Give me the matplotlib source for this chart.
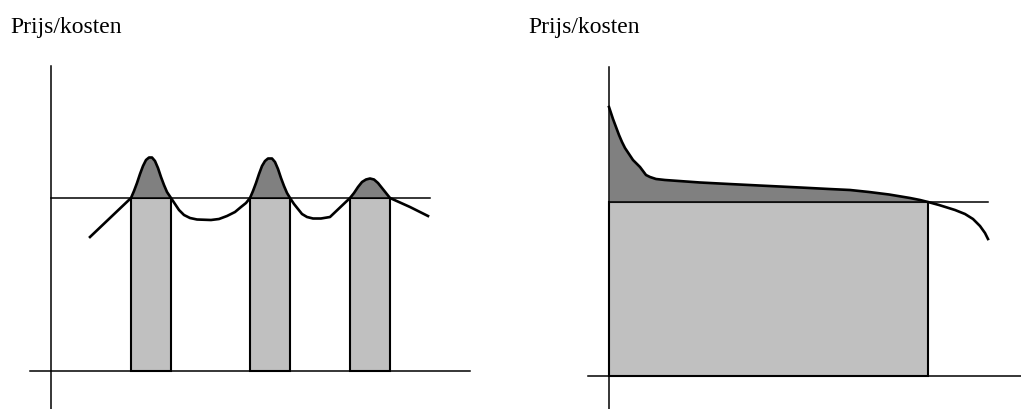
import numpy as np
import matplotlib.pyplot as plt

# left panel: curve with three peaks above the price line
left_x = np.array([39, 80, 83, 86, 89, 92, 95, 98, 101, 104, 107, 110, 113, 116, 120,
                   124, 128, 133, 139, 146, 160, 168, 176, 184, 190, 195,
                   199, 202, 205, 208, 211, 214, 217, 221, 224, 227, 230, 233, 236, 239,
                   243, 247, 251, 256, 262, 270, 279,
                   299, 303, 307, 311, 315, 319, 323, 327, 331, 335, 339, 359, 377])
left_y = np.array([134, 173, 180, 188, 197, 205, 211, 213.5, 213.5, 210, 203, 194, 186, 179, 173,
                   167, 161, 156, 153, 151.5, 151, 152, 155, 159, 164, 168,
                   173, 180, 188, 197, 205, 210, 212.5, 212.5, 209, 202, 193, 185, 178, 173,
                   167, 162, 157, 154, 152.5, 152.5, 154,
                   173, 178, 184, 189, 191.5, 192.5, 191.5, 188, 183, 178, 173, 164, 155])
left_price = 173
left_bars_start = [80, 199, 299]
left_bar_width = 40

# right panel: falling curve, one large block
right_x = np.array([0, 2, 4, 7, 10, 13, 16, 20, 24, 28, 31, 34, 37, 41, 47, 56, 70, 91,
                    120, 150, 191, 220, 241, 260, 280, 301, 311, 319,
                    330, 346, 356, 364, 371, 376, 379])
right_y = np.array([269, 263, 257, 249, 241, 234, 228, 222, 216, 212, 209, 205, 201, 199,
                    197, 196, 195, 193.5, 192, 190.5, 188.5, 187, 186, 184, 181.5, 178,
                    176, 174, 171, 166, 162, 157, 150, 143, 137])
right_price = 174
right_block_end = 319

label = "Prijs/kosten"
dark = "#808080"
light = "#c0c0c0"

fig = plt.figure(figsize=(10.21, 4.10), dpi=100)
ax1 = fig.add_axes([0, 0, 510 / 1021, 1])
ax2 = fig.add_axes([510 / 1021, 0, 511 / 1021, 1])
ax1.set_xlim(-51, 459)
ax1.set_ylim(-38, 372)
ax2.set_xlim(-99, 412)
ax2.set_ylim(-33, 377)

# left
for x0 in left_bars_start:
    ax1.bar(x0, left_price, width=left_bar_width, align='edge', color=light,
            edgecolor='black', linewidth=1.5, zorder=1)
ax1.fill_between(left_x, left_y, left_price, where=left_y >= left_price,
                 interpolate=True, color=dark, linewidth=0, zorder=2)
ax1.plot([0, 379], [left_price, left_price], color='black', lw=1.1, zorder=3)
ax1.plot([0, 0], [-38, 305], color='black', lw=1.1, zorder=3)
ax1.plot([-21, 419], [0, 0], color='black', lw=1.1, zorder=3)
ax1.plot(left_x, left_y, color='black', lw=1.9, zorder=4, solid_joinstyle='round')

# right
ax2.bar(0, right_price, width=right_block_end, align='edge', color=light,
        edgecolor='black', linewidth=1.5, zorder=1)
ax2.fill_between(right_x, right_y, right_price, where=right_x <= right_block_end,
                 interpolate=True, color=dark, linewidth=0, zorder=2)
ax2.plot([0, 379], [right_price, right_price], color='black', lw=1.1, zorder=3)
ax2.plot([0, 0], [-33, 309], color='black', lw=1.1, zorder=3)
ax2.plot([-21, 412], [0, 0], color='black', lw=1.1, zorder=3)
ax2.plot(right_x, right_y, color='black', lw=1.9, zorder=4, solid_joinstyle='round')

for ax in (ax1, ax2):
    ax.axis('off')

fig.text(10 / 1021, 1 - 33 / 410, label, family='Liberation Serif', fontsize=17,
         va='baseline')
fig.text(528 / 1021, 1 - 33 / 410, label, family='Liberation Serif', fontsize=17,
         va='baseline')

fig.savefig("out.png", dpi=100, facecolor='white')
